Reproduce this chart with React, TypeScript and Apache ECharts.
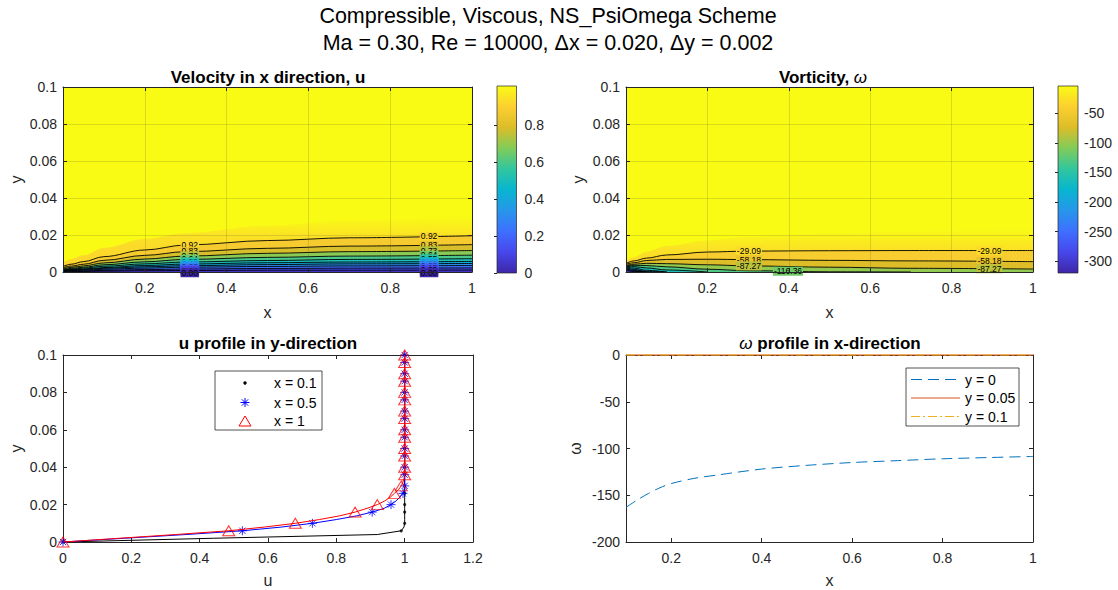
import React, { useEffect, useRef } from "react";
import * as echarts from "echarts";

const FONT = '"Liberation Sans", Arial, Helvetica, sans-serif';
const AX = "#262626";

// ---------- titles ----------
const figTitle1 = "Compressible, Viscous, NS_PsiOmega Scheme";
const figTitle2 = "Ma = 0.30, Re = 10000, \u0394x = 0.020, \u0394y = 0.002";

// ---------- contour stations along x ----------
const stationX = [0, 0.02, 0.05, 0.1, 0.2, 0.3, 0.5, 0.7, 1.0];

// ---------- u field (contour levels and their heights y at each station) ----------
const uRange = [0, 1.01];
const uLevels = [0.92, 0.83, 0.73, 0.64, 0.55, 0.46, 0.37, 0.28, 0.18, 0.09];
const uEdge = [0.005, 0.007, 0.009, 0.013, 0.018, 0.021, 0.025, 0.028, 0.03];
const uH092 = [0.003, 0.0042, 0.0056, 0.0083, 0.0119, 0.0146, 0.017, 0.0185, 0.0196];
const uH083 = [0.0023, 0.0032, 0.0042, 0.0063, 0.009, 0.011, 0.0128, 0.014, 0.0148];
const uH073 = [0.0018, 0.0025, 0.0033, 0.0049, 0.007, 0.0086, 0.0101, 0.011, 0.0116];
const uH064 = [0.0014, 0.0019, 0.0026, 0.0039, 0.0055, 0.0068, 0.0079, 0.0086, 0.0091];
const uH055 = [0.0011, 0.0015, 0.0021, 0.0031, 0.0044, 0.0054, 0.0062, 0.0068, 0.0072];
const uH046 = [0.0009, 0.0012, 0.0016, 0.0024, 0.0035, 0.0043, 0.005, 0.0054, 0.0057];
const uH037 = [0.0007, 0.001, 0.0013, 0.002, 0.0028, 0.0034, 0.004, 0.0044, 0.0046];
const uH028 = [0.0005, 0.0008, 0.001, 0.0015, 0.0021, 0.0026, 0.003, 0.0033, 0.0035];
const uH018 = [0.0003, 0.0005, 0.0006, 0.0009, 0.0013, 0.0016, 0.0019, 0.0021, 0.0022];
const uH009 = [0.0002, 0.0002, 0.0003, 0.0005, 0.0007, 0.0008, 0.001, 0.001, 0.0011];
const uHeights = [uH092, uH083, uH073, uH064, uH055, uH046, uH037, uH028, uH018, uH009];
const uLabelX = [0.31, 0.895];
const uTicks = [0, 0.2, 0.4, 0.6, 0.8];
// colour values across the edge layer (top of layer -> contour 0.92)
const uEdgeVals = [1.01, 0.975, 0.945, 0.93, 0.921, 0.92];

// ---------- vorticity field ----------
const wRange = [-320, -4];
const wLevels = [-29.09, -58.18, -87.27, -116.36, -145.45, -174.55, -203.64, -232.73, -261.82, -290.91];
const wEdge = [0.006, 0.008, 0.011, 0.014, 0.017, 0.019, 0.021, 0.022, 0.024];
const wH1 = [0.0047, 0.006, 0.0075, 0.0092, 0.0108, 0.0113, 0.0115, 0.0116, 0.0116];
const wH2 = [0.0042, 0.005, 0.0062, 0.0068, 0.0069, 0.0067, 0.0063, 0.006, 0.0056];
const wH3 = [0.0036, 0.0042, 0.0047, 0.0045, 0.0039, 0.0033, 0.0026, 0.002, 0.0016];
const wH4 = [0.0033, 0.0036, 0.0035, 0.0028, 0.0015, 0.0007, 0.0001, 0];
const wH5 = [0.003, 0.0029, 0.0022, 0.0011, 0];
const wH6 = [0.0027, 0.0021, 0.0009, 0];
const wH7 = [0.0024, 0.0014, 0.0003, 0];
const wH8 = [0.0021, 0.0008, 0];
const wH9 = [0.0017, 0.0004, 0];
const wH10 = [0.0012, 0.0001, 0];
const wHeights = [wH1, wH2, wH3, wH4, wH5, wH6, wH7, wH8, wH9, wH10];
const wLabelSpots: [number, number][] = [
  [0.302, 0], [0.302, 1], [0.302, 2],
  [0.893, 0], [0.893, 1], [0.893, 2],
  [0.398, 3],
];
const wTicks = [-300, -250, -200, -150, -100, -50];
const wEdgeVals = [-4, -10, -18, -25, -28.5, -29.09];

// ---------- u profiles in y-direction ----------
const yLine = [0, 0.002, 0.004, 0.006, 0.008, 0.01, 0.012, 0.014, 0.016, 0.018, 0.02, 0.022, 0.024, 0.026, 0.028, 0.03, 0.032, 0.034, 0.036, 0.04, 0.1];
const uLineX01 = [0, 0.44, 0.92, 0.99, 0.998, 1, 1, 1, 1, 1, 1, 1, 1, 1, 1, 1, 1, 1, 1, 1, 1];
const uLineX05 = [0, 0.18, 0.36, 0.525, 0.64, 0.73, 0.8, 0.86, 0.905, 0.94, 0.96, 0.975, 0.986, 0.995, 0.999, 1, 1, 1, 1, 1, 1];
const uLineX1 = [0, 0.165, 0.33, 0.485, 0.59, 0.68, 0.75, 0.81, 0.855, 0.89, 0.92, 0.942, 0.958, 0.97, 0.982, 0.99, 0.995, 0.998, 1, 1, 1];
const yMark = [0, 0.006, 0.01, 0.016, 0.02, 0.026, 0.03, 0.036, 0.04, 0.046, 0.05, 0.056, 0.06, 0.066, 0.07, 0.076, 0.08, 0.086, 0.09, 0.096, 0.1];
const uMarkX01 = [0, 0.99, 1, 1, 1, 1, 1, 1, 1, 1, 1, 1, 1, 1, 1, 1, 1, 1, 1, 1, 1];
const uMarkX05 = [0, 0.525, 0.73, 0.905, 0.96, 0.995, 1, 1, 1, 1, 1, 1, 1, 1, 1, 1, 1, 1, 1, 1, 1];
const uMarkX1 = [0, 0.485, 0.68, 0.855, 0.92, 0.97, 0.99, 1, 1, 1, 1, 1, 1, 1, 1, 1, 1, 1, 1, 1, 1];
const profileNames = ["x = 0.1", "x = 0.5", "x = 1"];

// ---------- omega profiles in x-direction ----------
const omegaX = [0.1, 0.125, 0.15, 0.175, 0.2, 0.25, 0.3, 0.4, 0.5, 0.6, 0.7, 0.8, 0.9, 1.0];
const omegaY0 = [-163, -155, -148, -142, -137.5, -132, -128.5, -122, -118, -115, -113, -111, -109.7, -108.5];
const omegaY005 = [0, 0, 0, 0, 0, 0, 0, 0, 0, 0, 0, 0, 0, 0];
const omegaY01 = [0, 0, 0, 0, 0, 0, 0, 0, 0, 0, 0, 0, 0, 0];
const omegaNames = ["y = 0", "y = 0.05", "y = 0.1"];
const omegaXTicks = [0.2, 0.4, 0.6, 0.8, 1];

// ---------- colormap ----------
const parula = ["#3e26a8", "#4747eb", "#3e6fff", "#2796eb", "#08b5d0", "#31c69f", "#80cc59", "#dcbd29", "#fccf30", "#f9fb15"];
function hexRgb(h: string) {
  return [parseInt(h.slice(1, 3), 16), parseInt(h.slice(3, 5), 16), parseInt(h.slice(5, 7), 16)];
}
function cmap(t: number) {
  const c = Math.max(0, Math.min(1, t)) * (parula.length - 1);
  const i = Math.min(Math.floor(c), parula.length - 2);
  const f = c - i;
  const a = hexRgb(parula[i]);
  const b = hexRgb(parula[i + 1]);
  const m = a.map((v, k) => Math.round(v + (b[k] - v) * f));
  return `rgb(${m[0]},${m[1]},${m[2]})`;
}
const colU = (v: number) => cmap((v - uRange[0]) / (uRange[1] - uRange[0]));
const colW = (v: number) => cmap((v - wRange[0]) / (wRange[1] - wRange[0]));

function interp(xs: number[], ys: number[], x: number) {
  for (let i = 0; i < ys.length - 1; i++) {
    if (x >= xs[i] && x <= xs[i + 1]) {
      const f = (x - xs[i]) / (xs[i + 1] - xs[i]);
      return ys[i] + (ys[i + 1] - ys[i]) * f;
    }
  }
  return x > xs[ys.length - 1] ? ys[ys.length - 1] : ys[0];
}

// ---------- axis helpers ----------
const tickIn = { show: true, inside: true, length: 4, lineStyle: { color: AX, width: 1 } };
const axLine = { show: true, onZero: false, lineStyle: { color: AX, width: 1 } };
const axLabel = { color: AX, fontSize: 14, fontFamily: FONT };
const nameStyle = { color: AX, fontSize: 16, fontFamily: FONT };
const gridSplit = { show: true, lineStyle: { color: "rgba(38,38,38,0.15)", width: 1 } };

function fmt(v: number) {
  const r = Math.round(v * 1e6) / 1e6;
  return String(r);
}

function contourSeries(
  xi: number,
  levels: number[],
  heights: number[][],
  edge: number[],
  edgeVals: number[],
  rangeMin: number,
  col: (v: number) => string
) {
  const out: any[] = [];
  const stops = edgeVals.map((v, i) => ({ offset: [0, 0.2, 0.35, 0.5, 0.68, 1][i], color: col(v) }));
  out.push({
    type: "line",
    xAxisIndex: xi,
    yAxisIndex: xi,
    data: stationX.map((x, i) => [x, edge[i]]),
    smooth: 0.35,
    smoothMonotone: "x",
    symbol: "none",
    silent: true,
    lineStyle: { width: 0, opacity: 0 },
    areaStyle: {
      color: { type: "linear", x: 0, y: 0, x2: 0, y2: 1, colorStops: stops },
      opacity: 1,
    },
    z: 2,
  });
  levels.forEach((lv, k) => {
    const lower = k + 1 < levels.length ? levels[k + 1] : rangeMin;
    const hs = heights[k];
    out.push({
      type: "line",
      xAxisIndex: xi,
      yAxisIndex: xi,
      data: hs.map((h, i) => [stationX[i], h]),
      smooth: 0.35,
      smoothMonotone: "x",
      symbol: "none",
      silent: true,
      lineStyle: { color: "#000", width: 0.9 },
      areaStyle: { color: col((lv + lower) / 2), opacity: 1 },
      z: 2,
    });
  });
  return out;
}

function labelSeries(xi: number, data: number[][], col: (v: number) => string) {
  return {
    type: "custom",
    xAxisIndex: xi,
    yAxisIndex: xi,
    encode: { x: 0, y: 1 },
    z: 4,
    silent: true,
    data,
    renderItem: (_p: any, api: any) => {
      const pt = api.coord([api.value(0), api.value(1)]);
      const lv = api.value(2) as number;
      return {
        type: "text",
        x: pt[0],
        y: pt[1],
        style: {
          text: lv.toFixed(2),
          font: `8.5px ${FONT}`,
          fill: "#000",
          align: "center",
          verticalAlign: "middle",
          textAlign: "center",
          textVerticalAlign: "middle",
          backgroundColor: col(lv),
          padding: [0, 1, 0, 1],
        },
      };
    },
  };
}

function colorbarSeries(xi: number, lo: number, hi: number) {
  const stops = parula.map((c, i) => ({ offset: 1 - i / (parula.length - 1), color: c })).reverse();
  return {
    type: "custom",
    xAxisIndex: xi,
    yAxisIndex: xi,
    silent: true,
    z: 2,
    data: [[0, lo]],
    renderItem: (_p: any, api: any) => {
      const a = api.coord([0, hi]);
      const b = api.coord([1, lo]);
      return {
        type: "rect",
        shape: { x: a[0], y: a[1], width: b[0] - a[0], height: b[1] - a[1] },
        style: {
          fill: new echarts.graphic.LinearGradient(0, 0, 0, 1, stops),
          stroke: AX,
          lineWidth: 0.7,
        },
      };
    },
  };
}

function buildOption() {
  const gridBase = { containLabel: false, outerBoundsMode: "none" };
  const grids = [
    { ...gridBase, left: 63, top: 87, width: 409, height: 185, show: true, backgroundColor: colU(uRange[1]), borderWidth: 0 },
    { ...gridBase, left: 626, top: 87, width: 407, height: 185, show: true, backgroundColor: colW(wRange[1]), borderWidth: 0 },
    { ...gridBase, left: 63, top: 355, width: 410, height: 187 },
    { ...gridBase, left: 626, top: 355, width: 407, height: 187 },
    { ...gridBase, left: 497, top: 86, width: 19.5, height: 187 },
    { ...gridBase, left: 1058, top: 86, width: 20, height: 187 },
  ];

  const contourX = (g: number, nameGap: number) => ({
    gridIndex: g, type: "value", min: 0, max: 1, interval: 0.2, z: 5,
    axisLine: axLine, axisTick: tickIn, splitLine: gridSplit,
    axisLabel: { ...axLabel, margin: 9, formatter: (v: number) => (Math.abs(v) < 1e-9 ? "" : fmt(v)) },
    name: "x", nameLocation: "middle", nameGap, nameTextStyle: nameStyle,
  });
  const mirrorX = (g: number, min: number, max: number, extra: any = {}) => ({
    gridIndex: g, type: "value", position: "top", min, max, axisLine: axLine,
    axisTick: tickIn, axisLabel: { show: false }, splitLine: { show: false }, ...extra,
  });
  const contourY = (g: number, nameGap: number) => ({
    gridIndex: g, type: "value", min: 0, max: 0.1, interval: 0.02, z: 5,
    axisLine: axLine, axisTick: tickIn, splitLine: gridSplit,
    axisLabel: { ...axLabel, margin: 6, formatter: (v: number) => fmt(v) },
    name: "y", nameLocation: "middle", nameGap, nameTextStyle: nameStyle,
  });
  const mirrorY = (g: number, min: number, max: number, extra: any = {}) => ({
    gridIndex: g, type: "value", position: "right", min, max, axisLine: axLine,
    axisTick: tickIn, axisLabel: { show: false }, splitLine: { show: false }, ...extra,
  });

  const xAxis = [
    contourX(0, 32),
    mirrorX(0, 0, 1, { interval: 0.2, z: 5 }),
    contourX(1, 32),
    mirrorX(1, 0, 1, { interval: 0.2, z: 5 }),
    {
      gridIndex: 2, type: "value", min: 0, max: 1.2, interval: 0.2,
      axisLine: axLine, axisTick: tickIn, splitLine: { show: false },
      axisLabel: { ...axLabel, margin: 9, formatter: (v: number) => fmt(v) },
      name: "u", nameLocation: "middle", nameGap: 30, nameTextStyle: nameStyle,
    },
    mirrorX(2, 0, 1.2, { interval: 0.2 }),
    {
      gridIndex: 3, type: "value", min: 0.1, max: 1,
      axisLine: axLine,
      axisTick: { ...tickIn, customValues: omegaXTicks },
      splitLine: { show: false },
      axisLabel: { ...axLabel, margin: 9, customValues: omegaXTicks, formatter: (v: number) => fmt(v) },
      name: "x", nameLocation: "middle", nameGap: 30, nameTextStyle: nameStyle,
    },
    mirrorX(3, 0.1, 1, { axisTick: { ...tickIn, customValues: omegaXTicks } }),
    { gridIndex: 4, type: "value", min: 0, max: 1, show: false },
    { gridIndex: 5, type: "value", min: 0, max: 1, show: false },
  ];

  const yAxis = [
    contourY(0, 39),
    mirrorY(0, 0, 0.1, { interval: 0.02, z: 5 }),
    contourY(1, 40),
    mirrorY(1, 0, 0.1, { interval: 0.02, z: 5 }),
    {
      gridIndex: 2, type: "value", min: 0, max: 0.1, interval: 0.02,
      axisLine: axLine, axisTick: tickIn, splitLine: { show: false },
      axisLabel: { ...axLabel, margin: 6, formatter: (v: number) => fmt(v) },
      name: "y", nameLocation: "middle", nameGap: 39, nameTextStyle: nameStyle,
    },
    mirrorY(2, 0, 0.1, { interval: 0.02 }),
    {
      gridIndex: 3, type: "value", min: -200, max: 0, interval: 50,
      axisLine: axLine, axisTick: tickIn, splitLine: { show: false },
      axisLabel: { ...axLabel, margin: 6, formatter: (v: number) => fmt(v) },
      name: "\u03c9", nameLocation: "middle", nameGap: 43, nameTextStyle: nameStyle,
    },
    mirrorY(3, -200, 0, { interval: 50 }),
    {
      gridIndex: 4, type: "value", position: "right", min: uRange[0], max: uRange[1], z: 5,
      axisLine: { show: false },
      axisTick: { show: true, inside: true, length: 3, lineStyle: { color: AX, width: 1 }, customValues: uTicks },
      axisLabel: { ...axLabel, margin: 8, customValues: uTicks, formatter: (v: number) => fmt(v) },
      splitLine: { show: false },
    },
    {
      gridIndex: 5, type: "value", position: "right", min: wRange[0], max: wRange[1], z: 5,
      axisLine: { show: false },
      axisTick: { show: true, inside: true, length: 3, lineStyle: { color: AX, width: 1 }, customValues: wTicks },
      axisLabel: { ...axLabel, margin: 6, customValues: wTicks, formatter: (v: number) => fmt(v) },
      splitLine: { show: false },
    },
  ];

  const uLabelData: number[][] = [];
  uLabelX.forEach((lx) => {
    uLevels.forEach((lv, k) => uLabelData.push([lx, interp(stationX, uHeights[k], lx), lv]));
    uLabelData.push([lx, -0.0004, 0]);
  });
  const wLabelData: number[][] = wLabelSpots.map(([lx, k]) => [lx, interp(stationX, wHeights[k], lx), wLevels[k]]);

  const series: any[] = [
    ...contourSeries(0, uLevels, uHeights, uEdge, uEdgeVals, uRange[0], colU),
    labelSeries(0, uLabelData, colU),
    ...contourSeries(2, wLevels, wHeights, wEdge, wEdgeVals, wRange[0], colW),
    labelSeries(2, wLabelData, colW),
    colorbarSeries(8, uRange[0], uRange[1]),
    colorbarSeries(9, wRange[0], wRange[1]),
    // u profiles
    {
      type: "line", name: profileNames[0], xAxisIndex: 4, yAxisIndex: 4,
      data: yLine.map((y, i) => [uLineX01[i], y]), symbol: "none",
      lineStyle: { color: "#000", width: 1 }, z: 2,
    },
    {
      type: "scatter", xAxisIndex: 4, yAxisIndex: 4,
      data: yMark.map((y, i) => [uMarkX01[i], y]), symbol: "circle", symbolSize: 3.2,
      itemStyle: { color: "#000" }, z: 3,
    },
    {
      type: "line", name: profileNames[1], xAxisIndex: 4, yAxisIndex: 4,
      data: yLine.map((y, i) => [uLineX05[i], y]), symbol: "none",
      lineStyle: { color: "#0000ff", width: 1 }, z: 4,
    },
    {
      type: "scatter", xAxisIndex: 4, yAxisIndex: 4,
      data: yMark.map((y, i) => [uMarkX05[i], y]),
      symbol: "path://M0,-10L0,10M-10,0L10,0M-7,-7L7,7M-7,7L7,-7", symbolSize: 9,
      itemStyle: { color: "#0000ff", borderColor: "#0000ff", borderWidth: 1 }, z: 5,
    },
    {
      type: "line", name: profileNames[2], xAxisIndex: 4, yAxisIndex: 4,
      data: yLine.map((y, i) => [uLineX1[i], y]), symbol: "none",
      lineStyle: { color: "#ff0000", width: 1 }, z: 6,
    },
    {
      type: "scatter", xAxisIndex: 4, yAxisIndex: 4,
      data: yMark.map((y, i) => [uMarkX1[i], y]), symbol: "triangle", symbolSize: [12, 10],
      itemStyle: { color: "rgba(0,0,0,0)", borderColor: "#ff0000", borderWidth: 1 }, z: 7,
    },
    // omega profiles
    {
      type: "line", name: omegaNames[0], xAxisIndex: 6, yAxisIndex: 6,
      data: omegaX.map((x, i) => [x, omegaY0[i]]), symbol: "none", smooth: 0.3,
      lineStyle: { color: "#0072BD", width: 1, type: [11, 6] }, z: 2,
    },
    {
      type: "line", name: omegaNames[1], xAxisIndex: 6, yAxisIndex: 6, clip: false,
      data: omegaX.map((x, i) => [x, omegaY005[i]]), symbol: "none",
      lineStyle: { color: "#D95319", width: 1 }, z: 3,
    },
    {
      type: "line", name: omegaNames[2], xAxisIndex: 6, yAxisIndex: 6, clip: false,
      data: omegaX.map((x, i) => [x, omegaY01[i]]), symbol: "none",
      lineStyle: { color: "#EDB120", width: 1, type: [9, 3, 2, 3] }, z: 4,
    },
  ];

  const txt = (x: number, y: number, text: string, font: string, align = "center", fill = "#000", z = 50) => ({
    type: "text", x, y, z,
    style: { text, font, fill, align, verticalAlign: "middle", textAlign: align, textVerticalAlign: "middle" },
  });

  const star = (cx: number, cy: number, r: number) => ({
    type: "group", z: 60,
    children: [
      [0, -r, 0, r], [-r, 0, r, 0], [-r * 0.7, -r * 0.7, r * 0.7, r * 0.7], [-r * 0.7, r * 0.7, r * 0.7, -r * 0.7],
    ].map(([x1, y1, x2, y2]) => ({
      type: "line", z: 60,
      shape: { x1: cx + x1, y1: cy + y1, x2: cx + x2, y2: cy + y2 },
      style: { stroke: "#0000ff", lineWidth: 1 },
    })),
  });

  const richTitle = {
    a: { fontSize: 17, fontWeight: "bold", fontFamily: FONT, fill: "#000", color: "#000" },
    b: { fontSize: 17, fontStyle: "italic", fontFamily: FONT, fill: "#000", color: "#000" },
  };

  const graphic: any[] = [
    txt(548, 16, figTitle1, `21.5px ${FONT}`),
    txt(548, 43, figTitle2, `21.5px ${FONT}`),
    txt(268, 77, "Velocity in x direction, u", `bold 17px ${FONT}`),
    {
      type: "text", x: 823, y: 77, z: 50,
      style: {
        text: "{a|Vorticity, }{b|\u03c9}",
        align: "center", verticalAlign: "middle", textAlign: "center", textVerticalAlign: "middle",
        rich: richTitle,
      },
    },
    txt(268, 343, "u profile in y-direction", `bold 17px ${FONT}`),
    {
      type: "text", x: 830, y: 343, z: 50,
      style: {
        text: "{b|\u03c9}{a| profile in x-direction}",
        align: "center", verticalAlign: "middle", textAlign: "center", textVerticalAlign: "middle",
        rich: richTitle,
      },
    },
    // legend: u profile
    {
      type: "rect", z: 55, shape: { x: 215, y: 371, width: 107, height: 59 },
      style: { fill: "#fff", stroke: AX, lineWidth: 0.8 },
    },
    { type: "circle", z: 60, shape: { cx: 245, cy: 383, r: 1.7 }, style: { fill: "#000" } },
    star(245, 402.5, 4.5),
    {
      type: "polygon", z: 60, shape: { points: [[239, 426], [251, 426], [245, 416]] },
      style: { fill: "none", stroke: "#ff0000", lineWidth: 1 },
    },
    txt(274, 383, profileNames[0], `14px ${FONT}`, "left", "#000", 60),
    txt(274, 402.5, profileNames[1], `14px ${FONT}`, "left", "#000", 60),
    txt(274, 421, profileNames[2], `14px ${FONT}`, "left", "#000", 60),
    // legend: omega profile
    {
      type: "rect", z: 55, shape: { x: 906, y: 368, width: 113, height: 58 },
      style: { fill: "#fff", stroke: AX, lineWidth: 0.8 },
    },
    {
      type: "line", z: 60, shape: { x1: 911, y1: 379.5, x2: 960, y2: 379.5 },
      style: { stroke: "#0072BD", lineWidth: 1, lineDash: [11, 6] },
    },
    {
      type: "line", z: 60, shape: { x1: 911, y1: 398, x2: 960, y2: 398 },
      style: { stroke: "#D95319", lineWidth: 1 },
    },
    {
      type: "line", z: 60, shape: { x1: 911, y1: 416.5, x2: 960, y2: 416.5 },
      style: { stroke: "#EDB120", lineWidth: 1, lineDash: [9, 3, 2, 3] },
    },
    txt(965, 379.5, omegaNames[0], `14px ${FONT}`, "left", "#000", 60),
    txt(965, 398, omegaNames[1], `14px ${FONT}`, "left", "#000", 60),
    txt(965, 416.5, omegaNames[2], `14px ${FONT}`, "left", "#000", 60),
  ];

  return {
    animation: false,
    backgroundColor: "#ffffff",
    textStyle: { fontFamily: FONT },
    grid: grids,
    xAxis,
    yAxis,
    series,
    graphic,
  };
}

export default function App() {
  const ref = useRef<HTMLDivElement>(null);
  useEffect(() => {
    if (!ref.current) return;
    const chart = echarts.init(ref.current, undefined, { renderer: "svg" });
    chart.setOption(buildOption() as any);
    return () => chart.dispose();
  }, []);
  return (
    <div
      ref={ref}
      style={{ position: "fixed", left: 0, top: 0, width: 1118, height: 590, background: "#fff" }}
    />
  );
}
